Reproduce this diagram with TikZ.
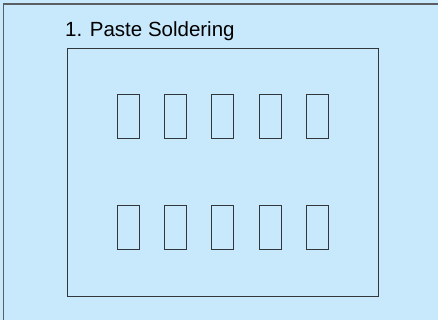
\documentclass[tikz,border=0pt]{standalone}
\usepackage{fontspec}
\setmainfont{Liberation Sans}
\definecolor{bgblue}{RGB}{200,233,251}
\definecolor{edge}{RGB}{50,55,60}
\tikzset{
  frame/.style={draw=edge, line width=1pt},
  pad/.style={draw=edge, line width=1pt, minimum width=22pt, minimum height=44pt, inner sep=0pt, anchor=north west},
}
\begin{document}
\begin{tikzpicture}[x=1pt,y=-1pt]
\useasboundingbox (0,0) rectangle (438,320);
\clip (0,0) rectangle (438,320);
\fill[bgblue] (0,0) rectangle (438,320);
\draw[draw=edge!80, line width=1.5pt] (3.5,4) rectangle (450,330);
\node[anchor=base west, inner sep=0pt, font=\fontsize{20.5pt}{24pt}\selectfont] (title) at (65,37) {1. Paste Soldering};
\node[frame, minimum width=311pt, minimum height=248pt, inner sep=0pt, anchor=north west] (board) at (67,48) {};
\foreach \i/\x in {1/117,2/164,3/211,4/259,5/306}{
  \node[pad] (t\i) at (\x,94) {};
  \node[pad] (b\i) at (\x,205) {};
}
\end{tikzpicture}
\end{document}
